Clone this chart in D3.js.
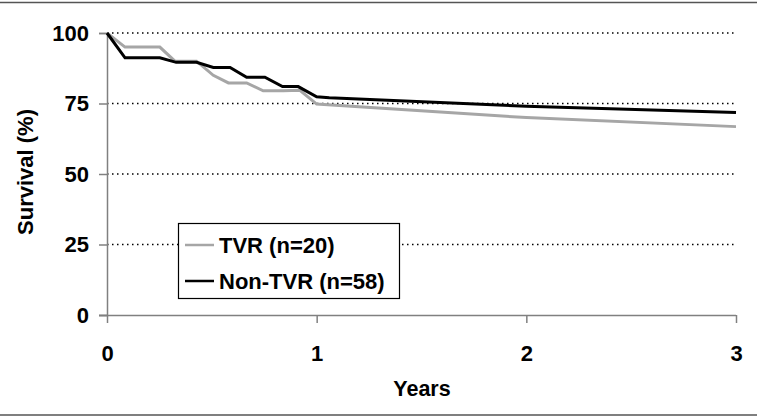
<!DOCTYPE html>
<html>
<head>
<meta charset="utf-8">
<script src="https://cdn.jsdelivr.net/npm/d3@7"></script>
<style>
  body { margin: 0; background: #fff; }
  svg text { font-family: "Liberation Sans", Arial, sans-serif; font-weight: bold; fill: #000; }
</style>
</head>
<body>
<div class="container"></div>
<script>
// chart data
var xTicks = [0, 1, 2, 3];
var yTicks = [0, 25, 50, 75, 100];
var gridTicks = [25, 50, 75, 100];

var tvrTime = [0, 0.086, 0.252, 0.324, 0.427, 0.507, 0.579, 0.666, 0.745, 0.84, 0.92, 1.0, 2.0, 3.0];
var tvrSurv = [100, 95, 95, 90, 90, 85, 82.3, 82.3, 79.5, 79.5, 79.7, 74.8, 70, 66.8];

var nonTime = [0, 0.086, 0.252, 0.33, 0.427, 0.507, 0.587, 0.666, 0.753, 0.837, 0.912, 1.0, 1.06, 2.0, 3.0];
var nonSurv = [100, 91.2, 91.2, 89.6, 89.6, 87.8, 87.8, 84.3, 84.3, 81, 81, 77.4, 77, 74, 71.8];

var seriesNames = ["TVR (n=20)", "Non-TVR (n=58)"];
var seriesColors = ["#a6a6a6", "#000000"];

// sizes
var width = 757, height = 418;
var margin = {top: 33, right: 21, bottom: 103, left: 107};
var fs = 22;

var svg = d3.select(".container").append("svg")
    .attr("width", width)
    .attr("height", height);

var x = d3.scaleLinear().domain([0, 3]).range([margin.left, width - margin.right]);
var y = d3.scaleLinear().domain([0, 100]).range([height - margin.bottom, margin.top]);

// top and bottom rules of the figure
svg.append("line").attr("x1", 0).attr("x2", width).attr("y1", 2.5).attr("y2", 2.5)
    .attr("stroke", "#555").attr("stroke-width", 1.5);
svg.append("line").attr("x1", 0).attr("x2", width).attr("y1", 415).attr("y2", 415)
    .attr("stroke", "#555").attr("stroke-width", 1.5);

// dotted gridlines
svg.append("g").selectAll("line").data(gridTicks).enter().append("line")
    .attr("x1", x(0)).attr("x2", x(3))
    .attr("y1", function(d){ return y(d); }).attr("y2", function(d){ return y(d); })
    .attr("stroke", "#000").attr("stroke-width", 1.3)
    .attr("stroke-dasharray", "1.5,3.5");

// axes
var yAxis = d3.axisLeft(y).tickValues(yTicks).tickSize(8).tickPadding(10).tickFormat(d3.format("d"));
var xAxis = d3.axisBottom(x).tickValues(xTicks).tickSize(8).tickPadding(22).tickFormat(d3.format("d"));

var gy = svg.append("g").attr("transform", "translate(" + x(0) + ",0)").call(yAxis);
var gx = svg.append("g").attr("transform", "translate(0," + y(0) + ")").call(xAxis);

[gx, gy].forEach(function(g){
  g.select(".domain").attr("stroke", "#808080").attr("stroke-width", 1.5);
  g.selectAll(".tick line").attr("stroke", "#808080").attr("stroke-width", 1.5);
  g.selectAll(".tick text").attr("font-size", fs).attr("font-family", null).attr("fill", "#000");
});
gx.select(".domain").attr("d", "M" + (x(0) - 8) + ",0.5H" + x(3));

// survival curves
var line = d3.line()
    .x(function(d){ return x(d[0]); })
    .y(function(d){ return y(d[1]); });

var curves = [d3.zip(tvrTime, tvrSurv), d3.zip(nonTime, nonSurv)];
svg.append("g").selectAll("path").data(curves).enter().append("path")
    .attr("d", line)
    .attr("fill", "none")
    .attr("stroke", function(d, i){ return seriesColors[i]; })
    .attr("stroke-width", 3)
    .attr("stroke-linejoin", "miter");

// axis titles
svg.append("text").attr("x", 422).attr("y", 396).attr("text-anchor", "middle")
    .attr("font-size", 21.5).text("Years");
svg.append("text").attr("transform", "translate(33,172) rotate(-90)")
    .attr("text-anchor", "middle").attr("font-size", fs).text("Survival (%)");

// legend
var gl = svg.append("g").attr("transform", "translate(178,223)");
gl.append("rect").attr("x", 0.5).attr("y", 0.5).attr("width", 221).attr("height", 75)
    .attr("fill", "#fff").attr("stroke", "#000").attr("stroke-width", 1.2);
var li = gl.selectAll(".li").data(seriesNames).enter().append("g")
    .attr("transform", function(d, i){ return "translate(0," + (22 + i * 36) + ")"; });
li.append("line").attr("x1", 7).attr("x2", 36).attr("y1", 0).attr("y2", 0)
    .attr("stroke", function(d, i){ return seriesColors[i]; }).attr("stroke-width", 2.5);
li.append("text").attr("x", 41).attr("y", 8).attr("font-size", fs).text(function(d){ return d; });
</script>
</body>
</html>
